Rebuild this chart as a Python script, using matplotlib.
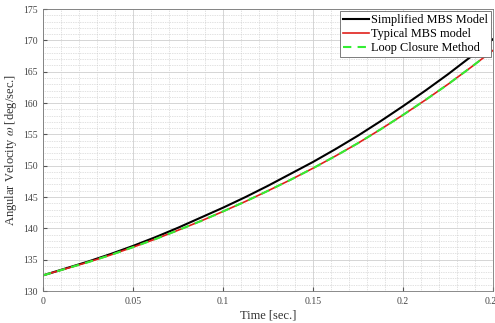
import numpy as np
import matplotlib
matplotlib.use("Agg")
from matplotlib import pyplot as plt
from matplotlib.ticker import MultipleLocator

# values
time = [0, 0.0125, 0.025, 0.0375, 0.05, 0.0625, 0.075, 0.0875, 0.1, 0.1125, 0.125,
        0.1375, 0.15, 0.1625, 0.175, 0.1875, 0.2, 0.2125, 0.225, 0.2375, 0.25]
simplified = [132.5, 133.6, 134.7, 135.9, 137.2, 138.6, 140.1, 141.7, 143.3, 145.0, 146.8,
              148.7, 150.6, 152.65, 154.8, 157.1, 159.5, 162.0, 164.6, 167.35, 170.2]
typical = [132.5, 133.55, 134.6, 135.75, 137.0, 138.3, 139.7, 141.15, 142.7, 144.3, 146.0,
           147.75, 149.6, 151.55, 153.6, 155.8, 158.1, 160.5, 163.0, 165.65, 168.4]
loop_closure = [132.5, 133.55, 134.6, 135.75, 137.0, 138.3, 139.7, 141.15, 142.7, 144.3, 146.0,
                147.75, 149.6, 151.55, 153.6, 155.8, 158.1, 160.5, 163.0, 165.65, 168.4]

plt.rcParams['font.family'] = ['Liberation Serif', 'DejaVu Serif']
plt.rcParams['mathtext.fontset'] = 'stix'

fig = plt.figure(figsize=(4.95, 3.23), dpi=100)
ax = fig.add_axes([0.087, 0.099, 0.909, 0.873])

ax.plot(time, simplified, color='black', lw=1.5, label='Simplified MBS Model')
ax.plot(time, typical, color='#e0201b', lw=1.2, label='Typical MBS model')
ax.plot(time, loop_closure, color='#33ee33', lw=1.5, ls=(0, (4, 3)), label='Loop Closure Method')

ax.set_xlim(0, 0.25)
ax.set_ylim(130, 175)
ax.xaxis.set_minor_locator(MultipleLocator(0.01))
ax.yaxis.set_major_locator(MultipleLocator(5))
ax.yaxis.set_minor_locator(MultipleLocator(1))
ax.set_xticks([0, 0.05, 0.1, 0.15, 0.2, 0.25])
ax.set_xticklabels(['0', '0.05', '0.1', '0.15', '0.2', '0.25'])

ax.grid(which='major', color='#cfcfcf', lw=0.6, ls='-')
ax.grid(which='minor', color='#c4c4c4', lw=0.5, ls=(0, (1, 1.5)))
ax.set_axisbelow(True)

ax.tick_params(which='both', direction='in', labelsize=7, colors='#555555', labelcolor='#444444')
ax.tick_params(which='minor', length=0)
ax.tick_params(which='major', length=3, pad=4)
for s in ax.spines.values():
    s.set_color('#777777')
    s.set_linewidth(0.6)

ax.set_xlabel('Time [sec.]', fontsize=9, color='#333333', labelpad=3)
ax.set_ylabel(r'Angular Velocity $\omega$ [deg/sec.]', fontsize=9, color='#333333', labelpad=3)

leg = ax.legend(loc='upper right', fontsize=8.8, handlelength=2.1, handletextpad=0.2,
                borderpad=0.25, labelspacing=0.18, fancybox=False, framealpha=1,
                borderaxespad=0.15)
leg.get_frame().set_edgecolor('#666666')
leg.get_frame().set_linewidth(0.6)

fig.savefig('out.png', dpi=100)
